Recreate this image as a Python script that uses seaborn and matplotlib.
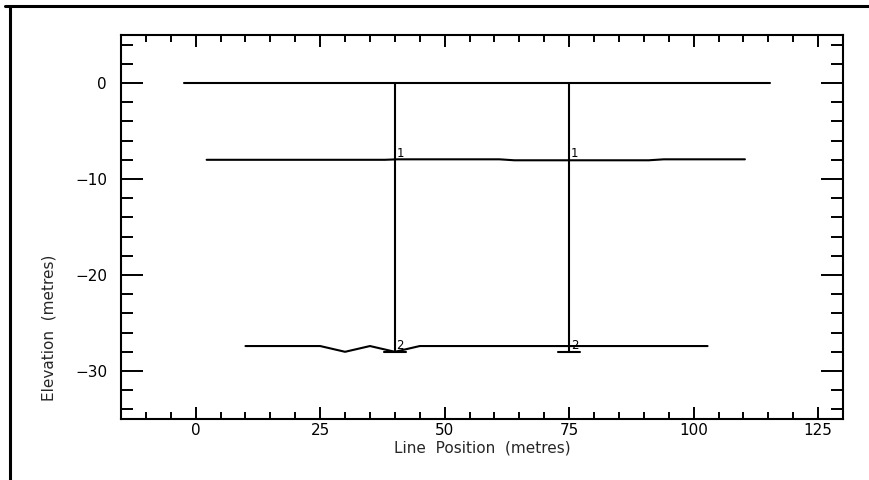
import numpy as np
import pandas as pd
import matplotlib
matplotlib.use("Agg")
import matplotlib.pyplot as plt
from matplotlib.lines import Line2D
from matplotlib.ticker import MultipleLocator
import seaborn as sns

# ground surface
surface_x = [-2.4, 115.3]
surface_y = [0.0, 0.0]

# layer 1 interface
layer1_x = [2.2, 38.0, 40.5, 61.0, 64.0, 91.0, 94.0, 110.3]
layer1_y = [-8.0, -8.0, -7.95, -7.95, -8.05, -8.05, -7.95, -7.95]

# layer 2 interface
layer2_x = [10.0, 25.0, 30.0, 35.0, 40.0, 45.0, 102.8]
layer2_y = [-27.4, -27.4, -28.0, -27.4, -28.0, -27.4, -27.4]

# boreholes
hole_x = [40.0, 75.0]
hole_top = [0.0, 0.0]
hole_bottom = [-28.0, -28.0]
cap_half = 2.2

# layer picks on the holes
pick_names = ["1", "2"]
pick_depths = [-8.0, -28.0]

rows = []
for x, y in zip(surface_x, surface_y):
    rows.append(("surface", x, y))
for x, y in zip(layer1_x, layer1_y):
    rows.append(("layer1", x, y))
for x, y in zip(layer2_x, layer2_y):
    rows.append(("layer2", x, y))
for i, (hx, top, bot) in enumerate(zip(hole_x, hole_top, hole_bottom)):
    rows.append((f"hole{i}", hx, top))
    rows.append((f"hole{i}", hx, bot))
    rows.append((f"cap{i}", hx - cap_half, bot))
    rows.append((f"cap{i}", hx + cap_half, bot))
df = pd.DataFrame(rows, columns=["seg", "x", "y"])

sns.set_style("ticks")
plt.rcParams["font.family"] = ["DejaVu Sans"]

fig = plt.figure(figsize=(8.69, 4.80), dpi=100)
ax = fig.add_axes([121 / 869, 1 - 419 / 480, 722 / 869, 384 / 480])

sns.lineplot(data=df, x="x", y="y", units="seg", estimator=None, sort=False,
             color="black", linewidth=1.5, ax=ax, legend=False)

for hx in hole_x:
    for name, d in zip(pick_names, pick_depths):
        ax.text(hx + 0.3, d, name, fontsize=8.5, ha="left", va="bottom",
                color="black")

ax.set_xlim(-15, 130)
ax.set_ylim(-35, 5)
ax.xaxis.set_major_locator(MultipleLocator(25))
ax.xaxis.set_minor_locator(MultipleLocator(5))
ax.yaxis.set_major_locator(MultipleLocator(10))
ax.yaxis.set_minor_locator(MultipleLocator(2))

ax.tick_params(axis="both", which="both", direction="in", top=True, right=True,
               width=1.4, colors="black", labelsize=11)
ax.tick_params(axis="x", which="major", length=8.9, pad=3)
ax.tick_params(axis="x", which="minor", length=5)
ax.tick_params(axis="y", which="major", length=16, pad=10)
ax.tick_params(axis="y", which="minor", length=8.6)
for s in ax.spines.values():
    s.set_linewidth(1.5)
    s.set_color("black")

ax.set_xlabel("Line  Position  (metres)", fontsize=11)
ax.set_ylabel("Elevation  (metres)", fontsize=11)
ax.xaxis.set_label_coords(0.5, -0.056)
ax.xaxis.label.set_va("top")
ax.yaxis.set_label_coords(-0.09, 0.237)
ax.yaxis.label.set_va("bottom")

# page frame
fig.add_artist(Line2D([5 / 869, 1], [1 - 5.5 / 480] * 2, color="black", lw=2.2))
fig.add_artist(Line2D([9.5 / 869] * 2, [0, 1 - 5.5 / 480], color="black", lw=2.2))

fig.savefig("out.png", dpi=100, facecolor="white")
